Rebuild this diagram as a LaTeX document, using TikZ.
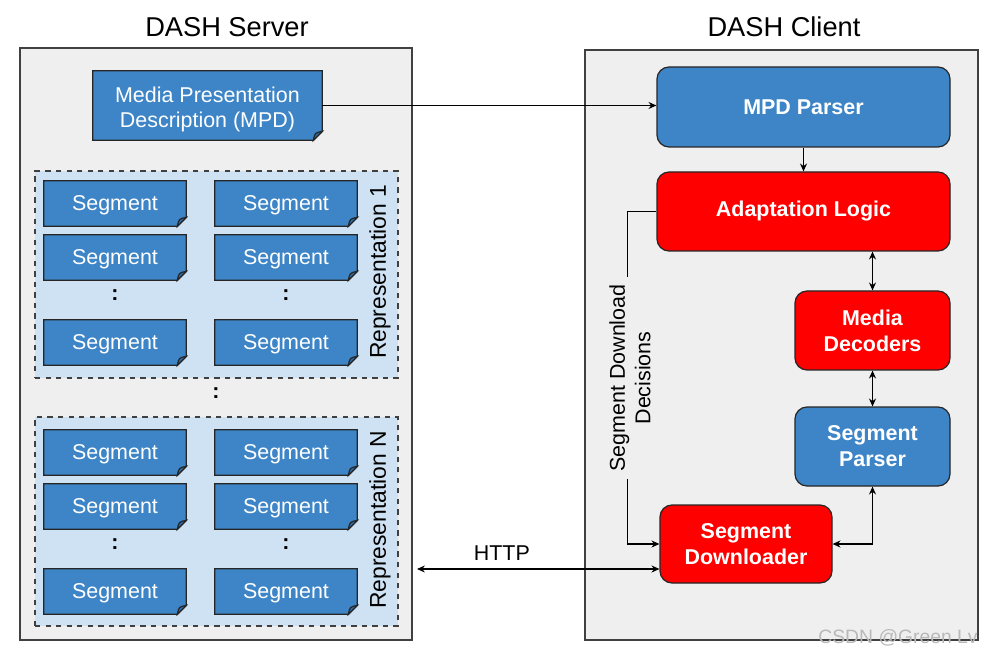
\documentclass[tikz,border=0pt]{standalone}
\usepackage{fontspec}
\setmainfont{Liberation Sans}
\usetikzlibrary{arrows.meta,calc,positioning}

\definecolor{docblue}{HTML}{3D85C6}
\definecolor{foldblue}{HTML}{2F6BA3}
\definecolor{repblue}{HTML}{CFE2F3}
\definecolor{panelgray}{HTML}{EFEFEF}
\definecolor{blkred}{HTML}{FF0000}

\tikzset{
  txt/.style={font=\fontsize{12.2}{14.5}\selectfont},
  panel/.style={draw=black!75, line width=0.8pt, fill=panelgray},
  rep/.style={draw=black!75, dashed, line width=0.6pt, fill=repblue},
  seg/.style={txt, fill=docblue, text=white, minimum width=2.84cm, minimum height=0.9cm, inner sep=0pt, text depth=0pt},
  docline/.style={draw=black!85, line width=0.7pt},
  blk/.style={txt, font=\fontsize{12.2}{14.8}\selectfont\bfseries, text=white, draw=black!85, line width=0.7pt,
    rounded corners=0.24cm, align=center, inner sep=0pt},
  conn/.style={line width=0.6pt, -{Stealth[length=4.5pt,width=4pt,inset=1.5pt]}},
  both/.style={line width=0.6pt, {Stealth[length=4.5pt,width=4pt,inset=1.5pt]}-{Stealth[length=4.5pt,width=4pt,inset=1.5pt]}}
}

% folded corner on a document node
\newcommand{\docfold}[2]{%
  \fill[#2] (#1.south east) -- ++(0,0.18) -- ++(-0.18,-0.18) -- cycle;
  \draw[docline] (#1.north west) -- (#1.north east) -- ($(#1.south east)+(0,0.18)$)
    -- ($(#1.south east)+(-0.18,0)$) -- (#1.south west) -- cycle;
  \filldraw[docline, fill=foldblue] ($(#1.south east)+(0,0.18)$)
    .. controls ($(#1.south east)+(-0.15,0.15)$) .. ($(#1.south east)+(-0.18,0)$) -- cycle;
}

\begin{document}
\begin{tikzpicture}
\useasboundingbox (0,0) rectangle (19.84,13.16);

% server side
\node[font=\fontsize{15.5}{18}\selectfont] (srvtitle) at (4.54,12.62) {DASH Server};
\node[panel, minimum width=7.84cm, minimum height=11.84cm] (server) at (4.32,6.28) {};
\node[seg, minimum width=4.58cm, minimum height=1.38cm, align=center, text depth=] (mpd) at (4.15,11.05)
  {\rule{0pt}{1.1em}Media Presentation\\Description (MPD)};
\docfold{mpd}{panelgray}

\node[rep, minimum width=7.26cm, minimum height=4.14cm] (rep1) at (4.33,7.67) {};
\node[rep, minimum width=7.26cm, minimum height=4.18cm] (repN) at (4.33,2.73) {};
\node[txt, rotate=90, font=\fontsize{13}{15}\selectfont] (rep1lab) at (7.60,7.72) {Representation 1};
\node[txt, rotate=90, font=\fontsize{13}{15}\selectfont] (repNlab) at (7.60,2.76) {Representation N};

\foreach \rep/\dy in {a/0,b/-4.98}{
  \foreach \col/\x in {1/2.30,2/5.72}{
    \foreach \row/\y in {1/9.09,2/8.01,3/6.31}{
      \node[seg] (s\rep\col\row) at (\x,\y+\dy) {Segment};
      \docfold{s\rep\col\row}{repblue}
    }
    \node[txt, font=\fontsize{12.2}{14}\selectfont\bfseries] (dots\rep\col) at (\x,7.26+\dy) {:};
  }
}
\node[txt, font=\fontsize{12.2}{14}\selectfont\bfseries] (repdots) at (4.32,5.30) {:};

% client side
\node[font=\fontsize{15.5}{18}\selectfont] (clititle) at (15.68,12.62) {DASH Client};
\node[panel, minimum width=7.86cm, minimum height=11.80cm] (client) at (15.63,6.26) {};

\node[blk, fill=docblue, minimum width=5.86cm, minimum height=1.6cm] (parser) at (16.07,11.02) {MPD Parser};
\node[blk, fill=blkred, minimum width=5.86cm, minimum height=1.58cm] (adapt) at (16.07,8.93) {Adaptation Logic};
\node[blk, fill=blkred, minimum width=3.10cm, minimum height=1.58cm] (decoders) at (17.45,6.55) {Media\\Decoders};
\node[blk, fill=docblue, minimum width=3.10cm, minimum height=1.58cm] (segparser) at (17.45,4.23) {Segment\\Parser};
\node[blk, fill=blkred, minimum width=3.44cm, minimum height=1.56cm] (downloader) at (14.92,2.28) {Segment\\Downloader};

% connectors
\draw[conn] (mpd.east) -- (mpd.east -| parser.west);
\draw[conn] (parser) -- (adapt);
\draw[both] (decoders.north |- adapt.south) -- (decoders.north);
\draw[both] (decoders) -- (segparser);
\draw[both] (segparser.south) |- (downloader.east);
\draw[conn] (adapt.west) -| ($(downloader.west)+(-0.64,0)$) -- (downloader.west);
\node[txt, rotate=90, align=center, fill=panelgray, inner sep=4pt] (decisions) at (12.60,5.60)
  {Segment Download\\Decisions};

\coordinate (srvport) at (8.34,1.78);
\draw[both] (srvport) -- (srvport -| downloader.west) node[txt, pos=0.35, above, yshift=1pt] (http) {HTTP};

\node[text=gray!55, font=\fontsize{11}{13}\selectfont, anchor=east, inner sep=0pt] (wm) at (19.56,0.40) {CSDN @Green Lv};
\end{tikzpicture}
\end{document}
